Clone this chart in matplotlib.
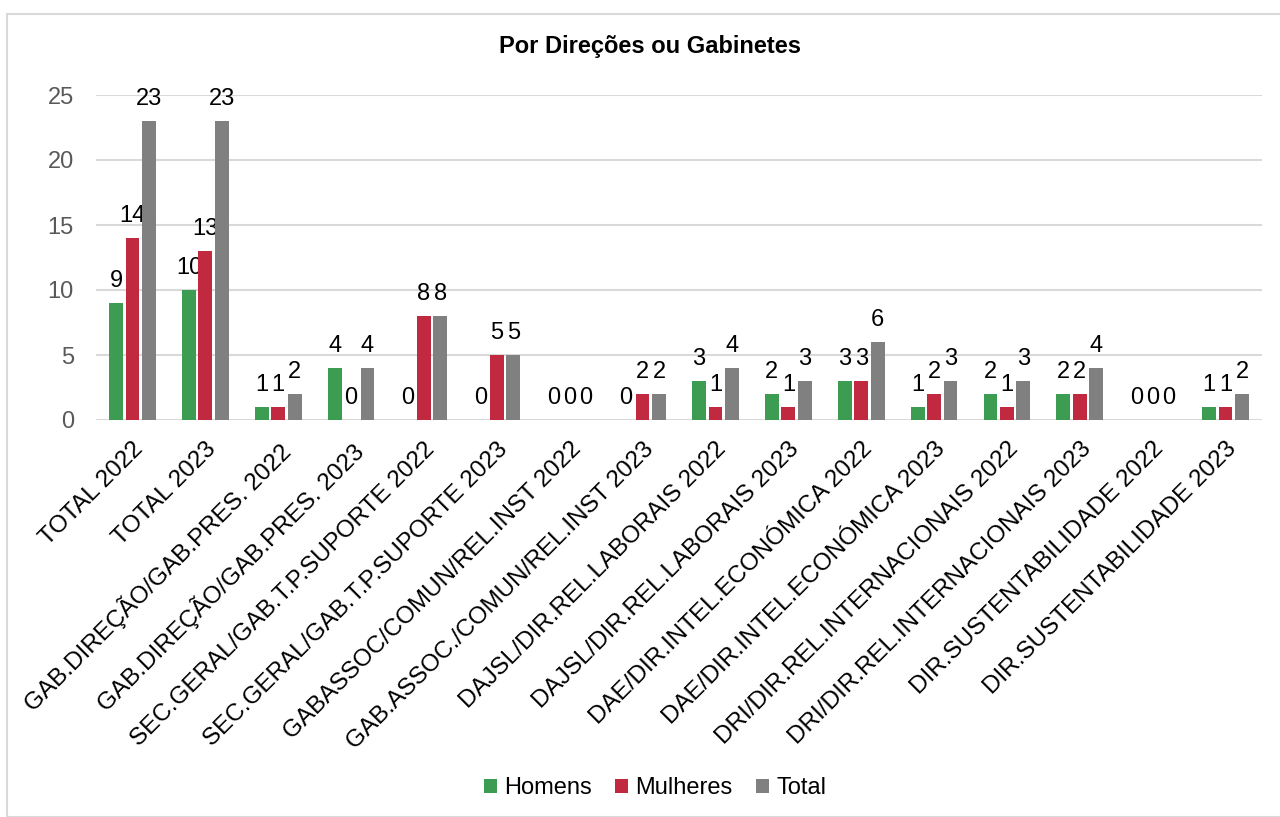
import numpy as np
import matplotlib.pyplot as plt
from matplotlib.patches import Rectangle

plt.rcParams['font.family'] = ['Liberation Sans', 'DejaVu Sans']

categorias = ["TOTAL 2022", "TOTAL 2023",
              "GAB.DIREÇÃO/GAB.PRES. 2022", "GAB.DIREÇÃO/GAB.PRES. 2023",
              "SEC.GERAL/GAB.T.P.SUPORTE 2022", "SEC.GERAL/GAB.T.P.SUPORTE 2023",
              "GABASSOC/COMUN/REL.INST 2022", "GAB.ASSOC./COMUN/REL.INST 2023",
              "DAJSL/DIR.REL.LABORAIS 2022", "DAJSL/DIR.REL.LABORAIS 2023",
              "DAE/DIR.INTEL.ECONÓMICA 2022", "DAE/DIR.INTEL.ECONÓMICA 2023",
              "DRI/DIR.REL.INTERNACIONAIS 2022", "DRI/DIR.REL.INTERNACIONAIS 2023",
              "DIR.SUSTENTABILIDADE 2022", "DIR.SUSTENTABILIDADE 2023"]
homens   = [9, 10, 1, 4, 0, 0, 0, 0, 3, 2, 3, 1, 2, 2, 0, 1]
mulheres = [14, 13, 1, 0, 8, 5, 0, 2, 1, 1, 3, 2, 1, 2, 0, 1]
total    = [23, 23, 2, 4, 8, 5, 0, 2, 4, 3, 6, 3, 3, 4, 0, 2]

series = [("Homens", homens, "#3c9d52"),
          ("Mulheres", mulheres, "#c0293f"),
          ("Total", total, "#808080")]

fig = plt.figure(figsize=(12.8, 8.17), dpi=100)
fig.patches.append(Rectangle((7/1280, 0), 1.0, 1 - 14/817, transform=fig.transFigure,
                             fill=False, edgecolor="#d9d9d9", lw=1.5))
ax = fig.add_axes([96/1280, 1 - 420/817, (1262 - 96)/1280, (420 - 95)/817])

x = np.arange(len(categorias))
w = 0.19
passo = 0.225
for i, (nome, vals, cor) in enumerate(series):
    pos = x + (i - 1) * passo
    ax.bar(pos, vals, width=w, color=cor, label=nome, zorder=3)
    for px, v in zip(pos, vals):
        ax.annotate(str(v), (px, v), xytext=(0, 11), textcoords="offset pixels",
                    ha="center", va="bottom", fontsize=17, color="#000000")

ax.set_ylim(0, 25)
ax.set_xlim(-0.5, len(categorias) - 0.5)
ax.set_yticks([0, 5, 10, 15, 20, 25])
ax.yaxis.grid(True, color="#d9d9d9", lw=1.5, zorder=0)
ax.set_axisbelow(True)
for s in ax.spines.values():
    s.set_visible(False)
ax.tick_params(axis="y", length=0, labelsize=17, labelcolor="#595959", pad=16)
ax.tick_params(axis="x", length=0, labelsize=17.5, pad=13)
ax.set_xticks(x)
ax.set_xticklabels(categorias, rotation=45, ha="right", rotation_mode="anchor")

fig.text(650/1280, 1 - 47/817, "Por Direções ou Gabinetes", ha="center", va="center",
         fontsize=17, fontweight="bold")

fig.legend(loc="center", bbox_to_anchor=(655/1280, 1 - 788/817), ncol=3, frameon=False,
           fontsize=17, handlelength=0.55, handleheight=0.55, handletextpad=0.3,
           columnspacing=1.0)

fig.savefig("out.png", dpi=100)
